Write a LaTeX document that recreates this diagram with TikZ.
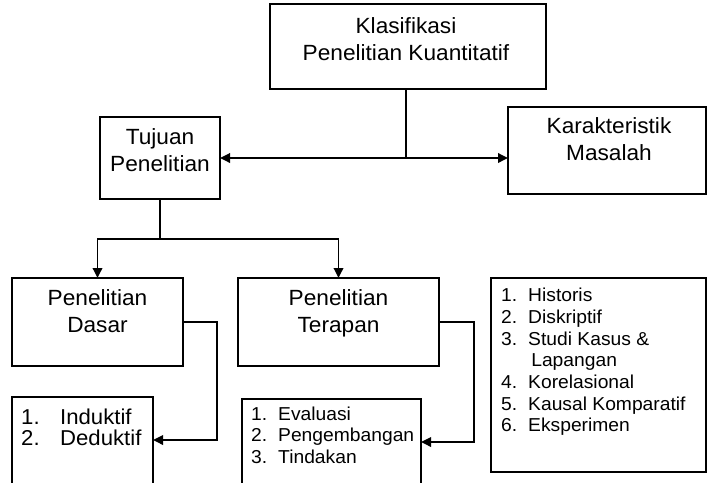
\documentclass[tikz,border=0pt]{standalone}
\usepackage{fontspec}
\setmainfont{Liberation Sans}[FakeStretch=1.03]
\usetikzlibrary{arrows.meta}
\begin{document}
\begin{tikzpicture}[x=1pt,y=-1pt,
  box/.style={draw=black, line width=1.2pt, rectangle, anchor=north west, inner sep=0pt, outer sep=0pt},
  conn/.style={line width=1.8pt, black, line join=miter},
  tip/.tip={Triangle[length=10pt,width=9.5pt]},
  arr/.style={conn, -tip},
  dblarr/.style={conn, tip-tip},
  lbl/.style={anchor=base, inner sep=0pt, font=\fontsize{22}{27}\selectfont},
  lst/.style={anchor=base west, inner sep=0pt, font=\fontsize{18.7}{21.7}\selectfont},
  lstbig/.style={anchor=base west, inner sep=0pt, font=\fontsize{21.5}{21}\selectfont},
]
\useasboundingbox (0,0) rectangle (708,482);

% boxes
\node[box, minimum width=276pt, minimum height=85pt] (top) at (270,4) {};
\node[box, minimum width=120pt, minimum height=82pt] (tuj) at (100,117) {};
\node[box, minimum width=198pt, minimum height=87pt] (kar) at (508,107) {};
\node[box, minimum width=171pt, minimum height=88pt] (das) at (12,278) {};
\node[box, minimum width=201pt, minimum height=88pt] (ter) at (238,278) {};
\node[box, minimum width=215pt, minimum height=194pt] (jen) at (491,278) {};
\node[box, minimum width=141pt, minimum height=100pt] (ind) at (12,397) {};
\node[box, minimum width=179pt, minimum height=100pt] (eva) at (242,399) {};

% texts
\node[lbl] (toptxt) at (406,33) {\begin{tabular}[t]{@{}c@{}}Klasifikasi\\Penelitian Kuantitatif\end{tabular}};
\node[lbl] (tujtxt) at (160,144) {\begin{tabular}[t]{@{}c@{}}Tujuan\\Penelitian\end{tabular}};
\node[lbl] (kartxt) at (609,133) {\begin{tabular}[t]{@{}c@{}}Karakteristik\\Masalah\end{tabular}};
\node[lbl] (dastxt) at (97.5,305) {\begin{tabular}[t]{@{}c@{}}Penelitian\\Dasar\end{tabular}};
\node[lbl] (tertxt) at (338.5,305) {\begin{tabular}[t]{@{}c@{}}Penelitian\\Terapan\end{tabular}};
\node[lst] (jentxt) at (501,301.7) {\begin{tabular}[t]{@{}p{27pt}@{}l@{}}1.&Historis\\2.&Diskriptif\\3.&Studi Kasus \&\\&\,Lapangan\\4.&Korelasional\\5.&Kausal Komparatif\\6.&Eksperimen\end{tabular}};
\node[lstbig] (indtxt) at (21,424) {\begin{tabular}[t]{@{}p{39pt}@{}l@{}}1.&Induktif\\2.&Deduktif\end{tabular}};
\node[lst] (evatxt) at (251,420) {\begin{tabular}[t]{@{}p{27pt}@{}l@{}}1.&Evaluasi\\2.&Pengembangan\\3.&Tindakan\end{tabular}};

% connectors
\coordinate (j1) at (406,158);
\draw[conn] (top.south -| j1) -- (j1);
\draw[dblarr] (tuj.east |- j1) -- (kar.west |- j1);

\coordinate (j2) at (160,239);
\draw[conn] (tuj.south) -- (j2);
\draw[dblarr] (das.north) -- (das.north |- j2) -- (ter.north |- j2) -- (ter.north);

\coordinate (c1) at (217,322);
\coordinate (c2) at (217,440);
\draw[arr] (das.east) -- (c1) -- (c2) -- (ind.east |- c2);

\coordinate (c3) at (474,322);
\coordinate (c4) at (474,442);
\draw[arr] (ter.east) -- (c3) -- (c4) -- (eva.east |- c4);
\end{tikzpicture}
\end{document}
